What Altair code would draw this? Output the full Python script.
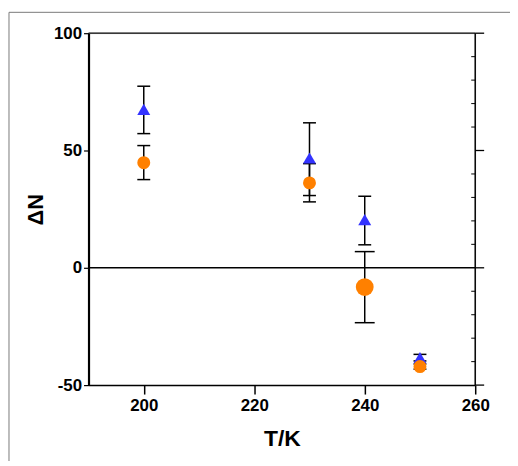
import altair as alt
import pandas as pd

T = [200, 230, 240, 250]
tri = [67.5, 46.8, 20.5, -38.3]
tri_lo = [57.2, 30.8, 9.8, -39.7]
tri_hi = [77.4, 61.8, 30.5, -36.9]
circ = [44.8, 36.2, -8.2, -42.1]
circ_lo = [37.6, 28.1, -23.4, -43.2]
circ_hi = [52.1, 44.4, 6.9, -41.0]

x_ticks = [200, 220, 240, 260]
y_ticks = [-50, 0, 50, 100]
y_minor = [-40, -30, -20, -10, 10, 20, 30, 40, 60, 70, 80, 90]
y_top = [100]

W, H = 389, 354
FONT = "Liberation Sans"

df_tri = pd.DataFrame({"T": T, "v": tri, "lo": tri_lo, "hi": tri_hi})
df_circ = pd.DataFrame({"T": T, "v": circ, "lo": circ_lo, "hi": circ_hi})

xs = alt.Scale(domain=[190, 260], nice=False, zero=False)
ys = alt.Scale(domain=[-50, 100], nice=False, zero=False)

x_axis = alt.Axis(
    values=x_ticks, title="T/K", tickSize=9, tickWidth=1.5, tickColor="black",
    domainColor="black", domainWidth=1.5, labelFont=FONT, labelFontSize=17,
    labelFontWeight="bold", labelColor="black", labelPadding=4, labelFlush=False,
    labelExpr="'' + datum.value",
    titleFont=FONT, titleFontSize=23, titleFontWeight="bold", titleColor="black",
    titlePadding=14, grid=False)
y_axis = alt.Axis(
    values=y_ticks, title="ΔN", tickSize=5, tickWidth=1.2, tickColor="black",
    domainColor="black", domainWidth=2.2, labelFont=FONT, labelFontSize=17,
    labelFontWeight="bold", labelColor="black", labelPadding=2,
    labelExpr="'' + datum.value", titleFont=FONT,
    titleFontSize=22, titleFontWeight="bold", titleColor="black", titlePadding=6,
    grid=False)


def X(f):
    return alt.X(f, scale=xs, axis=x_axis)


def Y(f):
    return alt.Y(f, scale=ys, axis=y_axis)


frame = alt.Chart(alt.Data(values=[{"a": 1}])).mark_rect(
    fill="transparent", stroke="#7a7a7a", strokeWidth=1).encode(
    x=alt.value(-80), x2=alt.value(800), y=alt.value(-21), y2=alt.value(800))

zero = alt.Chart(pd.DataFrame({"v": [0]})).mark_rule(color="black", strokeWidth=1.5).encode(
    y=Y("v:Q"), x=alt.value(0), x2=alt.value(W))

top = alt.Chart(pd.DataFrame({"v": y_top})).mark_rule(color="black", strokeWidth=1.3).encode(
    y=Y("v:Q"), x=alt.value(0), x2=alt.value(W))

right = alt.Chart(alt.Data(values=[{"a": 1}])).mark_rule(color="black", strokeWidth=1.5).encode(
    x=alt.value(W), y=alt.value(0), y2=alt.value(H))

minor = alt.Chart(pd.DataFrame({"v": y_minor})).mark_rule(color="black", strokeWidth=1).encode(
    y=Y("v:Q"), x=alt.value(W - 4), x2=alt.value(W))

major_r = alt.Chart(pd.DataFrame({"v": y_ticks})).mark_rule(color="black", strokeWidth=1.3).encode(
    y=Y("v:Q"), x=alt.value(W), x2=alt.value(W + 9))


def errs(df, big_cond):
    base = alt.Chart(df)
    cap_size = alt.condition(big_cond, alt.value(20), alt.value(13)) if big_cond is not None else alt.value(13)
    rule = base.mark_rule(color="black", strokeWidth=1.5).encode(
        x=X("T:Q"), y=Y("lo:Q"), y2="hi:Q")
    lo = base.mark_tick(color="black", thickness=1.5, orient="horizontal", opacity=1).encode(
        x=X("T:Q"), y=Y("lo:Q"), size=cap_size)
    hi = base.mark_tick(color="black", thickness=1.5, orient="horizontal", opacity=1).encode(
        x=X("T:Q"), y=Y("hi:Q"), size=cap_size)
    return [rule, lo, hi]


pts_tri = alt.Chart(df_tri).mark_point(shape="triangle-up", filled=True, color="#3333ff",
                                        opacity=1, size=170).encode(x=X("T:Q"), y=Y("v:Q"))
pts_circ = alt.Chart(df_circ).mark_circle(color="#ff8000", opacity=1).encode(
    x=X("T:Q"), y=Y("v:Q"),
    size=alt.condition(alt.datum.T == 240, alt.value(320), alt.value(170)))

layers = [frame, zero, top, right, minor, major_r] + errs(df_tri, None) + \
    errs(df_circ, alt.datum.T == 240) + [pts_tri, pts_circ]

chart = alt.layer(*layers).properties(
    width=W, height=H, autosize=alt.AutoSizeParams(type="none"),
    padding={"left": 81, "top": 24, "right": 35, "bottom": 75}
).configure_view(stroke=None).configure(background="white")

chart.save("out.html", embed_options={"renderer": "svg", "actions": False})
